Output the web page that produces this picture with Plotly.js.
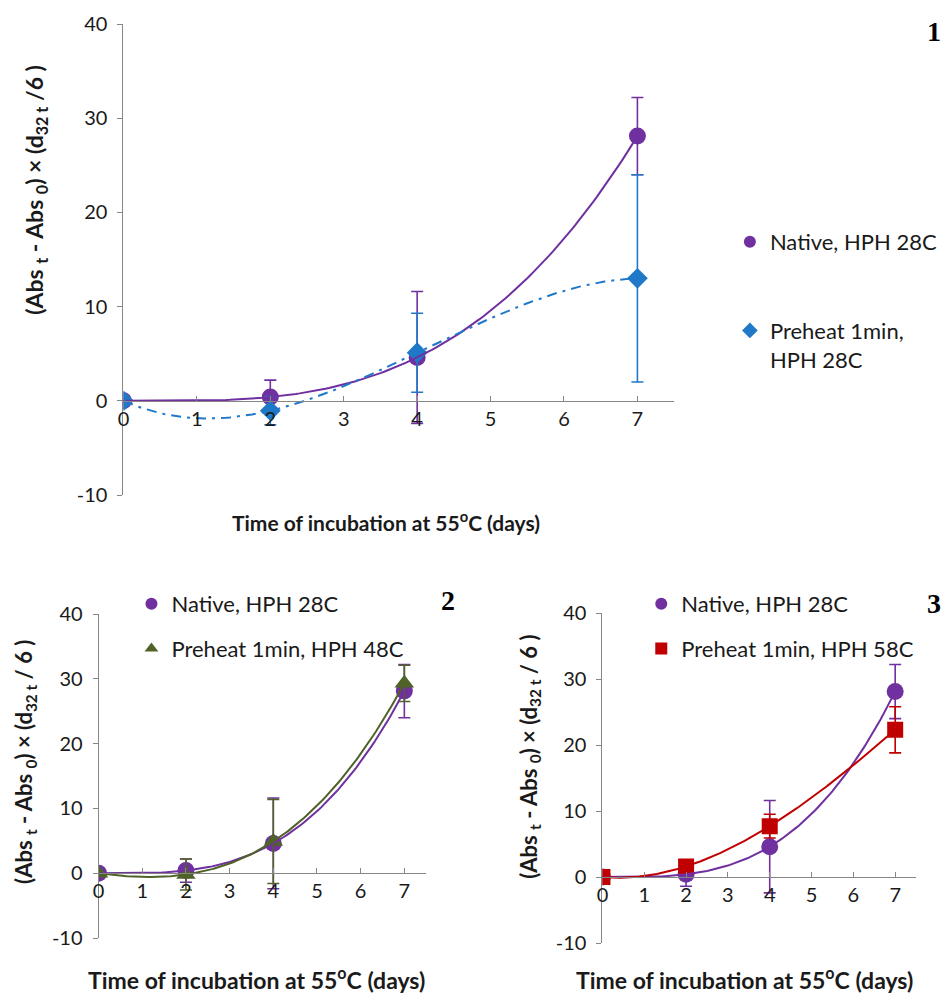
<!DOCTYPE html>
<html>
<head>
<meta charset="utf-8">
<script src="https://cdn.plot.ly/plotly-3.0.1.min.js"></script>
<style>
  html, body { margin: 0; padding: 0; background: #fff; }
  #chart { width: 943px; height: 995px; }
</style>
</head>
<body>
<div id="chart"></div>
<script>
// Incubation days and measured emulsion instability values (mean and error)
const days = [0, 2, 4, 7];
const xTicks = [0, 1, 2, 3, 4, 5, 6, 7];
const yTicks = [-10, 0, 10, 20, 30, 40];

const native28 = [0, 0.4, 4.6, 28.1];
const native28Err = [0, 1.8, 7.0, 4.1];

const pre28 = [0, -1.05, 5.1, 13.0];
const pre28Err = [0, 1.5, 4.2, 11.0];

const pre48 = [0, -0.2, 4.9, 29.3];
const pre48Err = [0, 2.4, 6.5, 2.8];

const pre58 = [0, 1.6, 7.7, 22.3];
const pre58Err = [0, 0.5, 1.8, 3.5];

const nameNative = 'Native, HPH 28C';
const namePre28 = 'Preheat 1min,<br>HPH 28C';
const namePre48 = 'Preheat 1min, HPH 48C';
const namePre58 = 'Preheat 1min, HPH 58C';

const COL = {
  purple: '#7030A0',
  blue: '#1F78C8',
  green: '#4F6228',
  red: '#C00000',
  axis: '#868686',
  text: '#1a1a1a'
};
const FONT = 'Lato, "Open Sans", sans-serif';

// least-squares polynomial trendline (order 3)
function polyfit(xs, ys, order) {
  const n = order + 1;
  const A = [];
  for (let i = 0; i < n; i++) {
    A.push(new Array(n + 1).fill(0));
  }
  for (let k = 0; k < xs.length; k++) {
    for (let i = 0; i < n; i++) {
      for (let j = 0; j < n; j++) A[i][j] += Math.pow(xs[k], i + j);
      A[i][n] += ys[k] * Math.pow(xs[k], i);
    }
  }
  for (let c = 0; c < n; c++) {
    let p = c;
    for (let r = c + 1; r < n; r++) if (Math.abs(A[r][c]) > Math.abs(A[p][c])) p = r;
    [A[c], A[p]] = [A[p], A[c]];
    for (let r = 0; r < n; r++) {
      if (r === c) continue;
      const f = A[r][c] / A[c][c];
      for (let j = c; j <= n; j++) A[r][j] -= f * A[c][j];
    }
  }
  return A.map((row, i) => row[n] / row[i]);
}
function trend(xs, ys) {
  const coef = polyfit(xs, ys, 3);
  const tx = [], ty = [];
  const x0 = Math.min(...xs), x1 = Math.max(...xs);
  for (let i = 0; i <= 140; i++) {
    const x = x0 + (x1 - x0) * i / 140;
    tx.push(x);
    ty.push(coef.reduce((s, c, p) => s + c * Math.pow(x, p), 0));
  }
  return { tx, ty };
}

function pointsTrace(ys, err, name, color, symbol, size, axisId, legendId, group) {
  return {
    x: days, y: ys, name: name, type: 'scatter', mode: 'markers',
    xaxis: 'x' + axisId, yaxis: 'y' + axisId,
    legend: legendId, legendgroup: group,
    marker: { color: color, symbol: symbol, size: size },
    error_y: { type: 'data', array: err, visible: true, color: color, thickness: 1.6, width: 6 },
    hoverinfo: 'x+y'
  };
}
function trendTrace(ys, color, dash, axisId) {
  const t = trend(days, ys);
  return {
    x: t.tx, y: t.ty, type: 'scatter', mode: 'lines',
    xaxis: 'x' + axisId, yaxis: 'y' + axisId,
    line: { color: color, width: 2, dash: dash, shape: 'linear' },
    showlegend: false, hoverinfo: 'skip'
  };
}

const traces = [
  pointsTrace(native28, native28Err, nameNative, COL.purple, 'circle', 17, '', 'legend', 'a1'),
  pointsTrace(pre28, pre28Err, namePre28, COL.blue, 'diamond', 16, '', 'legend', 'b1'),
  trendTrace(native28, COL.purple, 'solid', ''),
  trendTrace(pre28, COL.blue, '10px,6px,3px,6px', ''),

  pointsTrace(native28, native28Err, nameNative, COL.purple, 'circle', 17, '2', 'legend2', 'a2'),
  pointsTrace(pre48, pre48Err, namePre48, COL.green, 'triangle-up', 17, '2', 'legend2', 'b2'),
  trendTrace(native28, COL.purple, 'solid', '2'),
  trendTrace(pre48, COL.green, 'solid', '2'),

  pointsTrace(native28, native28Err, nameNative, COL.purple, 'circle', 17, '3', 'legend3', 'a3'),
  pointsTrace(pre58, pre58Err, namePre58, COL.red, 'square', 16, '3', 'legend3', 'b3'),
  trendTrace(native28, COL.purple, 'solid', '3'),
  trendTrace(pre58, COL.red, 'solid', '3')
];

// page geometry in pixels
const W = 943, H = 995;
const px = v => v / W;
const py = v => 1 - v / H;
const Y_MIN = -10, Y_MAX = 40;

const panels = [
  { left: 124, right: 677, top: 24, bottom: 495, tick: 20 },
  { left: 99, right: 428, top: 614, bottom: 938, tick: 20 },
  { left: 605, right: 920, top: 613, bottom: 943, tick: 20 }
];

const layout = {
  width: W, height: H,
  margin: { l: 0, r: 0, t: 0, b: 0 },
  paper_bgcolor: '#fff', plot_bgcolor: 'rgba(0,0,0,0)',
  showlegend: true,
  font: { family: FONT, color: COL.text },
  annotations: []
};

panels.forEach((p, i) => {
  const sfx = i === 0 ? '' : String(i + 1);
  const yDom = [py(p.bottom), py(p.top)];
  const zeroPos = yDom[0] + (0 - Y_MIN) / (Y_MAX - Y_MIN) * (yDom[1] - yDom[0]);
  layout['xaxis' + sfx] = {
    domain: [px(p.left), px(p.right)],
    range: [0, 7.5],
    anchor: 'free', position: zeroPos,
    tickvals: xTicks, ticktext: xTicks.map(String),
    ticks: 'inside', ticklen: 5, tickcolor: COL.axis, tickwidth: 1,
    showline: true, linecolor: COL.axis, linewidth: 1,
    showgrid: false, zeroline: false,
    tickfont: { family: FONT, size: p.tick, color: COL.text }
  };
  layout['yaxis' + sfx] = {
    domain: yDom,
    range: [Y_MIN, Y_MAX],
    anchor: 'x' + sfx,
    tickvals: yTicks, ticktext: yTicks.map(String),
    ticks: 'outside', ticklen: 5, tickcolor: COL.axis, tickwidth: 1,
    showline: true, linecolor: COL.axis, linewidth: 1,
    showgrid: false, zeroline: false,
    ticklabelstandoff: 6,
    tickfont: { family: FONT, size: p.tick, color: COL.text }
  };
});

const legendBase = {
  xanchor: 'left', yanchor: 'top',
  bgcolor: 'rgba(0,0,0,0)', borderwidth: 0,
  itemsizing: 'constant', valign: 'top',
  font: { family: FONT, size: 22, color: COL.text },
  itemclick: false, itemdoubleclick: false
};
layout.legend = Object.assign({}, legendBase, { x: px(733), y: py(221), tracegroupgap: 57 });
layout.legend2 = Object.assign({}, legendBase, { x: px(132), y: py(583), tracegroupgap: 13 });
layout.legend3 = Object.assign({}, legendBase, { x: px(644), y: py(583), tracegroupgap: 13 });

const yTitle1 = '(Abs <sub>t</sub> - Abs <sub>0</sub>) × (d<sub>32 t</sub> /6 )';
const yTitle2 = '(Abs <sub>t</sub> - Abs <sub>0</sub>) × (d<sub>32 t</sub> / 6 )';
const xTitle = 'Time of incubation at 55<sup>o</sup>C (days)';

function note(text, x, y, size, opts) {
  return Object.assign({
    text: text, xref: 'paper', yref: 'paper', x: px(x), y: py(y),
    xanchor: 'center', yanchor: 'middle', showarrow: false,
    font: { family: FONT, size: size, color: COL.text }
  }, opts || {});
}
const B = s => '<b>' + s + '</b>';
const serif = { family: '"Liberation Serif", serif', size: 28, color: '#000' };
layout.annotations.push(
  note(B(xTitle), 388, 521, 21),
  note(B(yTitle1), 36, 190, 23, { textangle: -90 }),
  note(B(xTitle), 258, 978, 23),
  note(B(yTitle2), 25, 762, 22, { textangle: -90 }),
  note(B(xTitle), 748, 978, 23),
  note(B(yTitle2), 532, 757, 22, { textangle: -90 }),
  note(B('1'), 929, 32, 28, { xanchor: 'left', font: serif }),
  note(B('2'), 450, 600, 28, { font: serif }),
  note(B('3'), 929, 603, 28, { xanchor: 'left', font: serif })
);

Plotly.newPlot('chart', traces, layout, { displayModeBar: false, staticPlot: true });
</script>
</body>
</html>
